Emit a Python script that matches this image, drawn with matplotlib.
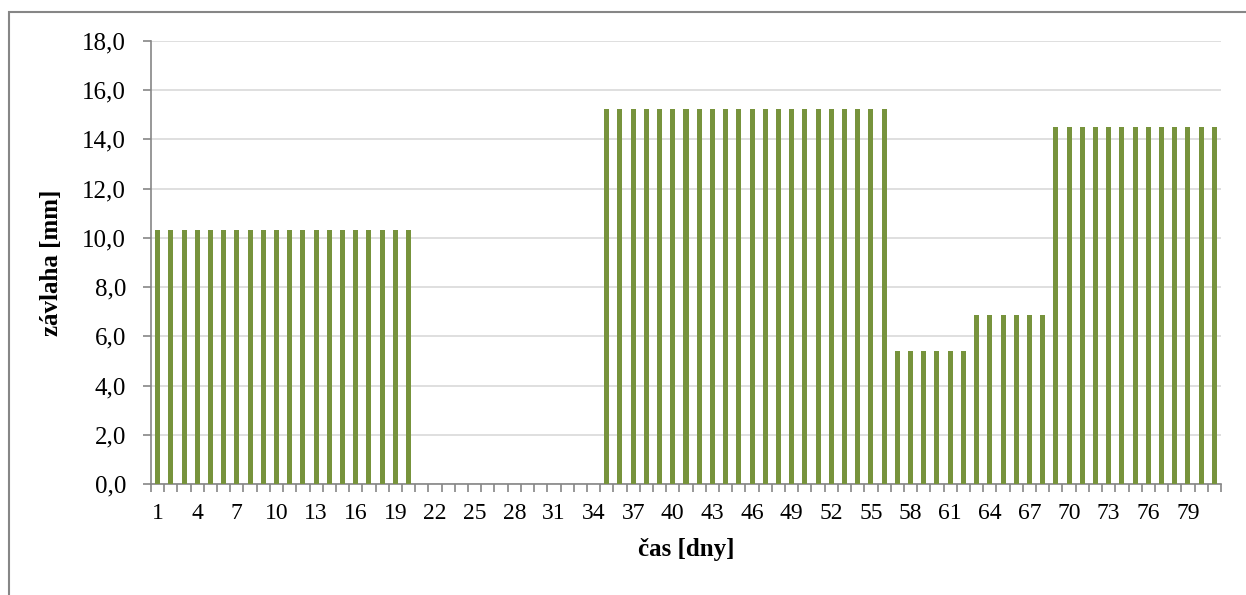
import matplotlib
matplotlib.use("Agg")
import matplotlib.pyplot as plt
import numpy as np
from matplotlib.patches import Rectangle

# Données : závlaha [mm] par jour
days = list(range(1, 82))
values = ([10.34] * 20 + [0.0] * 14 + [15.25] * 22 + [5.4] * 6
          + [6.85] * 6 + [14.5] * 13)
y_ticks = [0, 2, 4, 6, 8, 10, 12, 14, 16, 18]
x_label = "čas [dny]"
y_label = "závlaha [mm]"

plt.rcParams['font.family'] = ['Liberation Serif', 'DejaVu Serif']

fig = plt.figure(figsize=(12.46, 5.95), dpi=100)
ax = fig.add_axes([151 / 1246, 1 - 484 / 595, (1221 - 151) / 1246, (484 - 41) / 595])

x = np.arange(len(days))
ax.bar(x, values, width=0.38, color='#77933C', zorder=3)

# Grille et limites
ax.set_xlim(-0.5, len(days) - 0.5)
ax.set_ylim(0, 18)
ax.set_yticks(y_ticks)
ax.set_yticklabels([f"{v:.1f}".replace('.', ',') for v in y_ticks], fontsize=18)
ax.yaxis.grid(True, color='#d9d9d9', linewidth=1.2, zorder=0)
ax.tick_params(axis='y', direction='out', length=6, width=1.2, color='#868686', pad=12)

# Axe des x : étiquettes tous les 3 jours, graduations entre catégories
ax.set_xticks(x[::3])
ax.set_xticklabels([str(d) for d in days[::3]], fontsize=17)
ax.set_xticks(np.arange(-0.5, len(days)), minor=True)
ax.tick_params(axis='x', which='major', length=0, pad=14)
ax.tick_params(axis='x', which='minor', direction='out', length=6, width=1.2, color='#868686')

for side in ['top', 'right']:
    ax.spines[side].set_visible(False)
for side in ['left', 'bottom']:
    ax.spines[side].set_color('#868686')
    ax.spines[side].set_linewidth(1.2)

ax.set_xlabel(x_label, fontsize=18, fontweight='bold', labelpad=10)
ax.set_ylabel(y_label, fontsize=18, fontweight='bold', labelpad=14)

# Cadre du graphique
fig.patches.append(Rectangle((9 / 1246, -0.1), 1.2, 1 - 12 / 595 + 0.1,
                             transform=fig.transFigure, fill=False,
                             edgecolor='#868686', linewidth=1.5))

fig.savefig("out.png", dpi=100)
